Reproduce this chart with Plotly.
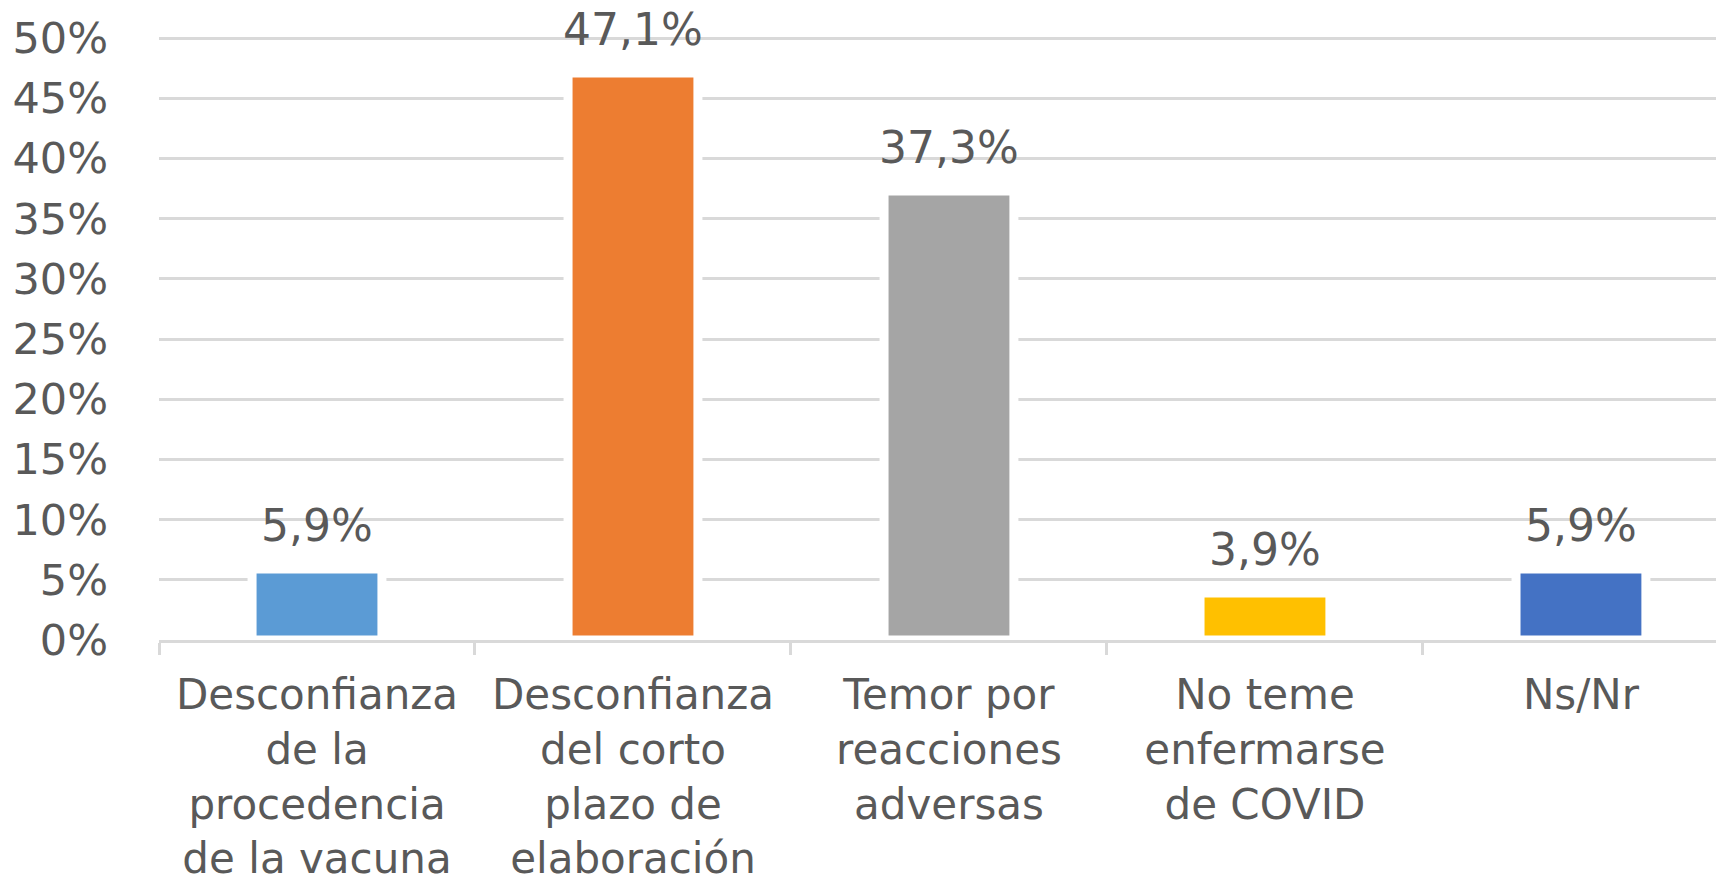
import plotly.graph_objects as go

categories = [
    "Desconfianza<br>de la<br>procedencia<br>de la vacuna",
    "Desconfianza<br>del corto<br>plazo de<br>elaboración",
    "Temor por<br>reacciones<br>adversas",
    "No teme<br>enfermarse<br>de COVID",
    "Ns/Nr",
]
values = [0.059, 0.471, 0.373, 0.039, 0.059]
bar_colors = ["#5B9BD5", "#ED7D31", "#A5A5A5", "#FFC000", "#4472C4"]

text_color = "#595959"
grid_color = "#D9D9D9"
font_family = "DejaVu Sans"

fig = go.Figure()
# white outline hides the gridlines next to each bar (like Excel)
fig.add_bar(
    x=categories,
    y=values,
    width=0.411,
    marker_color=bar_colors,
    marker_line=dict(color="white", width=9),
    hoverinfo="skip",
)

# data labels above each bar
for cat, val in zip(categories, values):
    fig.add_annotation(
        x=cat,
        y=val,
        text=f"{val * 100:.1f}%".replace(".", ","),
        showarrow=False,
        yanchor="bottom",
        yshift=17,
        borderpad=0,
        font=dict(family=font_family, size=44, color=text_color),
    )

fig.update_layout(
    width=1724,
    height=880,
    margin=dict(l=151, r=0, t=28, b=248),
    paper_bgcolor="white",
    plot_bgcolor="white",
    showlegend=False,
    font=dict(family=font_family, size=42, color=text_color),
)
fig.update_xaxes(
    range=[-0.5, 4.478],
    automargin=False,
    showgrid=False,
    showline=True,
    linecolor=grid_color,
    linewidth=3,
    layer="above traces",
    ticks="outside",
    tickson="boundaries",
    ticklen=12,
    tickwidth=3,
    tickcolor=grid_color,
    ticklabelstandoff=16,
    tickfont=dict(family=font_family, size=42, color=text_color),
)
fig.update_yaxes(
    range=[0, 0.50166],
    automargin=False,
    dtick=0.05,
    tickformat=".0%",
    showgrid=True,
    gridcolor=grid_color,
    gridwidth=3,
    zeroline=False,
    showline=False,
    ticks="",
    ticklabelstandoff=50,
    tickfont=dict(family=font_family, size=43, color=text_color),
)

fig.write_html("out.html")
